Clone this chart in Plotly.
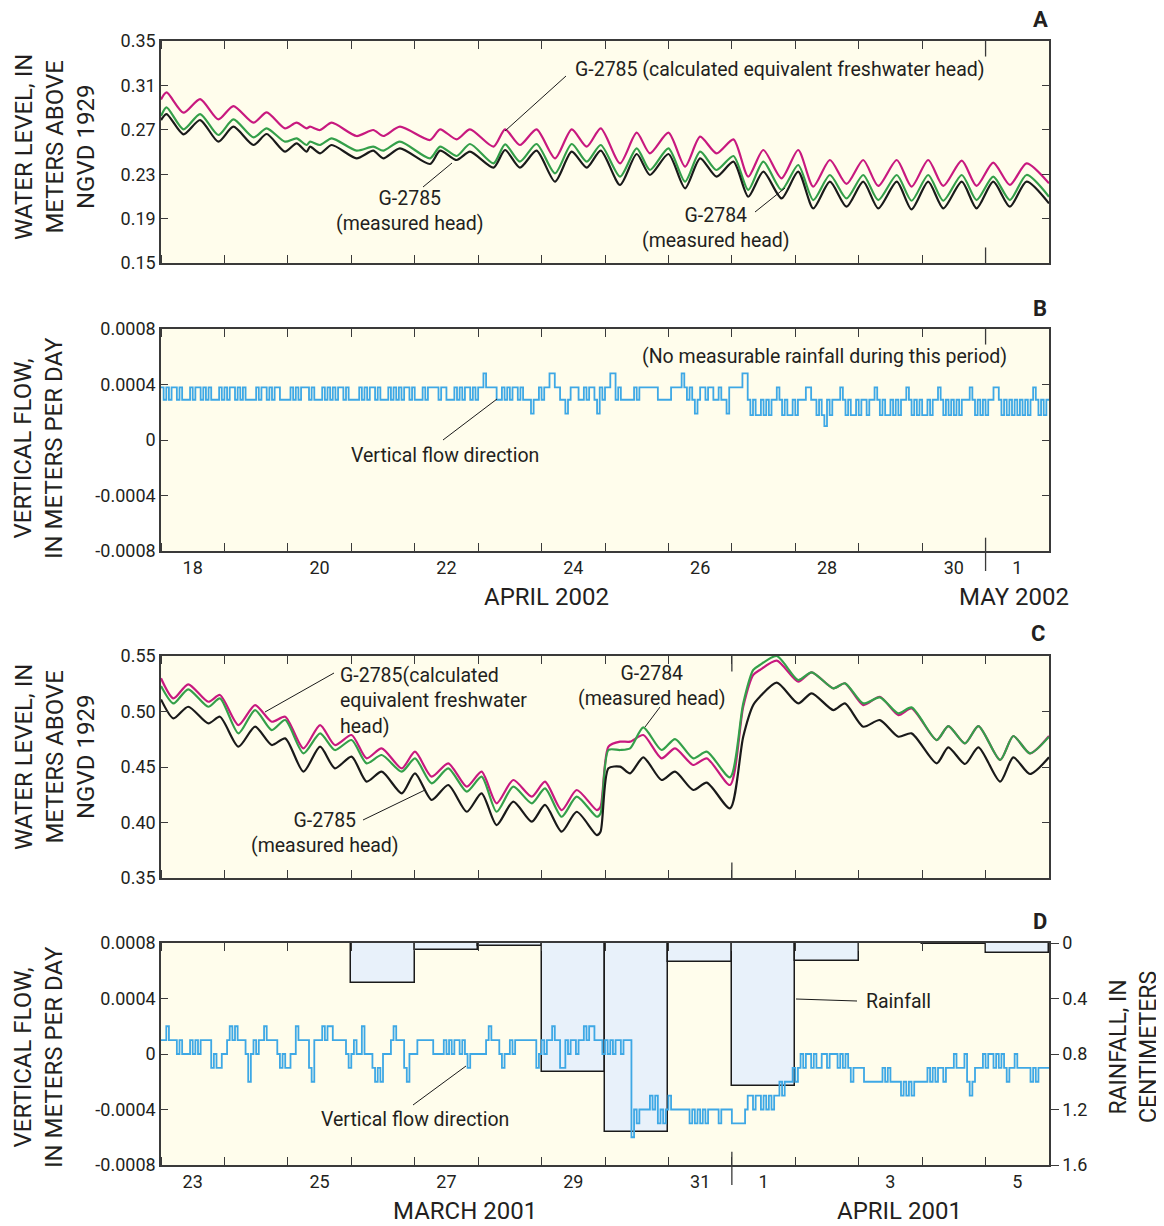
import plotly.graph_objects as go

# ---------------- DATA ----------------
# Panel A: 2002-04-18 00:00 .. 2002-05-02 00:00, hours from start
A_HOURS = [0, 2.1, 8.5, 14.8, 21.7, 27.4, 35.0, 40.0, 46.9, 51.3, 55.1, 56.4, 60.2, 64.6, 74.0, 80.3, 84.1,
           90.4, 101.8, 105.6, 111.9, 116.9, 125.8, 130.2, 135.8, 142.1, 149.1, 155.4, 161.1, 166.4, 173.7,
           180.0, 185.0, 192.0, 198.3, 204.0, 210.2, 216.6, 222.2, 227.9, 234.8, 241.1, 246.8, 253.1, 259.4,
           265.7, 271.4, 278.4, 284.0, 290.3, 296.0, 303.0, 308.6, 314.9, 321.2, 327.5, 336]
A_G2785_CALC = [0.2974, 0.3037, 0.2854, 0.2977, 0.2794, 0.2914, 0.2764, 0.2857, 0.2713, 0.2764,
                0.2713, 0.2728, 0.2698, 0.2764, 0.2644, 0.2698, 0.2644, 0.2728, 0.2608, 0.2704,
                0.2614, 0.2704, 0.2548, 0.2704, 0.2563, 0.2704, 0.2443, 0.2704, 0.2548, 0.2713,
                0.2398, 0.2674, 0.2488, 0.2674, 0.2368, 0.2638, 0.2488, 0.2614, 0.2278, 0.2518,
                0.2263, 0.2518, 0.2188, 0.2428, 0.2212, 0.2428, 0.2194, 0.2428, 0.2188, 0.2428,
                0.2194, 0.2422, 0.2194, 0.2404, 0.2203, 0.2398, 0.2218]
A_G2784_MEAS = [0.2824, 0.2902, 0.2704, 0.2842, 0.2653, 0.2794, 0.2632, 0.2713, 0.2593, 0.2623,
                0.2563, 0.2593, 0.2563, 0.2623, 0.2512, 0.2548, 0.2512, 0.2593, 0.2443, 0.2548,
                0.2464, 0.2572, 0.2398, 0.2569, 0.2413, 0.2572, 0.2308, 0.2572, 0.2413, 0.2563,
                0.2278, 0.2533, 0.2338, 0.2533, 0.2233, 0.2503, 0.2338, 0.2464, 0.2158, 0.2413,
                0.2158, 0.2383, 0.2067, 0.2293, 0.2082, 0.2293, 0.2067, 0.2293, 0.2061, 0.2293,
                0.2061, 0.2293, 0.2067, 0.2278, 0.2067, 0.2293, 0.2097]
A_G2785_MEAS = [0.2788, 0.2842, 0.2659, 0.2788, 0.2593, 0.2728, 0.2563, 0.2662, 0.2503, 0.2578,
                0.2503, 0.2548, 0.2488, 0.2563, 0.2443, 0.2512, 0.2443, 0.2533, 0.2392, 0.2512,
                0.2428, 0.2503, 0.2359, 0.2518, 0.2359, 0.2512, 0.2233, 0.2503, 0.2359, 0.2512,
                0.2203, 0.2482, 0.2293, 0.2482, 0.2173, 0.2443, 0.2278, 0.2413, 0.2097, 0.2323,
                0.2082, 0.2323, 0.1992, 0.2233, 0.2007, 0.2233, 0.1992, 0.2233, 0.1983, 0.2233,
                0.1992, 0.2233, 0.1992, 0.2233, 0.2007, 0.2233, 0.2037]

# Panel B: hourly vertical flow, units of 1e-4 m/d (2002-04-18 .. 2002-05-01)
FLOW_B_E4 = [
    3.8, 2.9, 3.8, 2.9, 3.8, 3.8, 2.9, 3.8, 2.9, 2.9, 2.9, 3.8, 2.9, 3.8, 3.8, 2.9, 3.8, 2.9, 3.8, 2.9, 2.9, 2.9, 3.8, 2.9,
    3.8, 2.9, 3.8, 3.8, 2.9, 3.8, 2.9, 3.8, 2.9, 2.9, 2.9, 2.9, 3.8, 2.9, 3.8, 3.8, 2.9, 3.8, 2.9, 3.8, 3.8, 2.9, 2.9, 2.9,
    2.9, 3.8, 2.9, 3.8, 2.9, 3.8, 3.8, 3.8, 2.9, 3.8, 2.9, 2.9, 2.9, 3.8, 2.9, 3.8, 2.9, 3.8, 2.9, 3.8, 3.8, 2.9, 3.8, 2.9,
    2.9, 2.9, 2.9, 3.8, 2.9, 3.8, 2.9, 3.8, 3.8, 2.9, 3.8, 2.9, 2.9, 2.9, 3.8, 2.9, 3.8, 2.9, 3.8, 2.9, 3.8, 3.8, 2.9, 3.8,
    2.9, 2.9, 2.9, 3.8, 2.9, 3.8, 3.8, 3.8, 3.8, 2.9, 3.8, 3.8, 2.9, 2.9, 2.9, 3.8, 2.9, 3.8, 2.9, 3.8, 3.8, 2.9, 3.8, 2.9,
    3.8, 3.8, 4.8, 3.8, 3.8, 3.8, 3.8, 2.9, 2.9, 3.8, 2.9, 3.8, 2.9, 3.8, 3.8, 2.9, 3.8, 2.9, 2.9, 2.9, 1.9, 2.9, 2.9, 3.8,
    2.9, 3.8, 3.8, 4.8, 4.8, 3.8, 3.8, 2.9, 2.9, 1.9, 2.9, 3.8, 3.8, 3.8, 2.9, 2.9, 3.8, 2.9, 3.8, 3.8, 2.9, 1.9, 3.8, 2.9,
    3.8, 3.8, 4.8, 4.8, 2.9, 3.8, 2.9, 2.9, 2.9, 2.9, 2.9, 3.8, 2.9, 3.8, 3.8, 3.8, 3.8, 3.8, 3.8, 3.8, 2.9, 2.9, 2.9, 2.9,
    2.9, 3.8, 3.8, 3.8, 3.8, 4.8, 3.8, 2.9, 3.8, 2.9, 1.9, 2.9, 3.8, 3.8, 2.9, 3.8, 3.8, 2.9, 2.9, 3.8, 2.9, 2.9, 1.9, 3.8,
    3.8, 3.8, 3.8, 3.8, 4.8, 4.8, 2.9, 1.8, 2.9, 1.8, 1.8, 2.9, 1.8, 2.9, 1.8, 2.9, 2.9, 3.8, 2.9, 1.8, 2.9, 1.8, 1.8, 2.9,
    1.8, 2.9, 2.9, 2.9, 3.8, 3.8, 2.9, 2.9, 1.8, 2.9, 1.8, 1.0, 2.9, 1.8, 2.9, 2.9, 2.9, 3.8, 2.9, 1.8, 2.9, 1.8, 1.8, 2.9,
    1.8, 2.9, 2.9, 1.8, 2.9, 2.9, 3.8, 2.9, 1.8, 2.9, 1.8, 1.8, 2.9, 1.8, 2.9, 1.8, 2.9, 2.9, 3.8, 2.9, 1.8, 2.9, 1.8, 2.9,
    1.8, 1.8, 2.9, 1.8, 2.9, 2.9, 3.8, 2.9, 1.8, 2.9, 1.8, 2.9, 1.8, 2.9, 1.8, 2.9, 2.9, 2.9, 3.8, 2.9, 1.8, 2.9, 1.8, 2.9,
    1.8, 2.9, 2.9, 3.8, 3.8, 2.9, 1.8, 2.9, 1.8, 2.9, 1.8, 2.9, 1.8, 2.9, 1.8, 2.9, 1.8, 2.9, 3.8, 2.9, 1.8, 2.9, 1.8, 2.9,
]

# Panel C: 2001-03-23 00:00 .. 2001-04-06 00:00, hours from start
C_HOURS = [0, 4.7, 10.3, 17.9, 22.3, 29.3, 35.6, 41.9, 47.0, 53.9, 60.2, 65.8, 72.1, 77.8, 83.5, 91.1, 96.1,
           102.4, 108.7, 115.7, 121.3, 127.0, 133.3, 140.3, 145.3, 151.6, 157.3, 164.9, 166.3, 169.3, 173.7,
           177.5, 182.5, 189.4, 194.5, 201.4, 206.5, 215.3, 220.3, 224.1, 226.6, 233.0, 241.1, 246.2, 254.4,
           258.8, 265.7, 272.0, 279.0, 284.0, 293.5, 297.9, 304.2, 309.3, 317.5, 322.5, 328.8, 336]
C_G2785_CALC = [0.5299, 0.5118, 0.5245, 0.5088, 0.5149, 0.4878, 0.5058, 0.4908, 0.4953, 0.4668,
                0.4878, 0.4698, 0.4788, 0.4578, 0.4668, 0.4488, 0.4638, 0.4413, 0.4533, 0.4323,
                0.4458, 0.4173, 0.4383, 0.4233, 0.4368, 0.4112, 0.4293, 0.4112, 0.4142, 0.4683,
                0.4728, 0.4728, 0.4788, 0.4578, 0.4668, 0.4518, 0.4578, 0.4338, 0.5043, 0.5329,
                0.5374, 0.5458, 0.5269, 0.5353, 0.5209, 0.5254, 0.5058, 0.5133, 0.4968, 0.5028,
                0.4743, 0.4869, 0.4713, 0.4869, 0.4563, 0.4779, 0.4623, 0.4779]
C_G2784_MEAS = [0.5230, 0.5073, 0.5200, 0.5043, 0.5118, 0.4803, 0.5013, 0.4833, 0.4923, 0.4623,
                0.4803, 0.4653, 0.4743, 0.4533, 0.4608, 0.4458, 0.4578, 0.4353, 0.4488, 0.4278,
                0.4413, 0.4097, 0.4323, 0.4173, 0.4308, 0.4052, 0.4233, 0.4052, 0.4082, 0.4653,
                0.4653, 0.4668, 0.4857, 0.4653, 0.4752, 0.4578, 0.4638, 0.4407, 0.5073, 0.5374,
                0.5419, 0.5500, 0.5284, 0.5353, 0.5209, 0.5254, 0.5073, 0.5127, 0.4983, 0.5037,
                0.4743, 0.4869, 0.4713, 0.4869, 0.4563, 0.4779, 0.4623, 0.4773]
C_G2785_MEAS = [0.5109, 0.4938, 0.5043, 0.4893, 0.4953, 0.4683, 0.4863, 0.4698, 0.4758, 0.4458,
                0.4683, 0.4488, 0.4593, 0.4368, 0.4458, 0.4263, 0.4443, 0.4203, 0.4338, 0.4097,
                0.4263, 0.3977, 0.4188, 0.4007, 0.4158, 0.3917, 0.4097, 0.3887, 0.3917, 0.4488,
                0.4503, 0.4443, 0.4587, 0.4383, 0.4458, 0.4293, 0.4359, 0.4127, 0.4773, 0.5058,
                0.5133, 0.5260, 0.5073, 0.5164, 0.5013, 0.5073, 0.4863, 0.4923, 0.4773, 0.4803,
                0.4533, 0.4677, 0.4527, 0.4677, 0.4368, 0.4587, 0.4437, 0.4587]

# Panel D: hourly vertical flow, units of 1e-4 m/d (2001-03-23 .. 2001-04-05)
FLOW_D_E4 = [
    1, 1, 2, 1, 1, 1, 0, 1, 0, 0, 0, 1, 0, 1, 0, 1, 1, 1, 1, -1, 0, -1, -1, 0,
    0, 1, 2, 1, 2, 1, 1, 1, 0, -2, 0, 1, 0, 1, 1, 2, 1, 1, 1, 1, 0, -1, 0, -1,
    -1, 0, 0, 2, 1, 1, 1, 1, -1, -2, 1, 1, 1, 2, 1, 2, 2, 1, 1, 1, 1, 1, 0, -1,
    0, 1, 0, 0, 2, 0, 0, 0, -1, -2, -1, -2, 0, 0, 0, 1, 2, 1, 1, 1, -1, -2, 0, 0,
    0, 1, 1, 1, 1, 1, 1, 0, 0, 0, 0, 1, 0, 1, 0, 1, 1, 0, 1, 0, -1, 0, 0, 0,
    0, 0, 0, 1, 2, 1, 1, 1, 0, -1, 0, 0, 1, 0, 1, 1, 1, 1, 1, 1, 1, 1, -1, 0,
    1, 0, 1, 1, 2, 1, 1, -1, -1, 1, 0, 1, 1, 0, 1, 1, 2, 1, 2, 2, 1, 1, 1, 0,
    1, 0, 1, 0, 1, 1, 0, 1, 1, 1, -6, -4, -5, -4, -4, -4, -4, -3, -4, -3, -5, -4, -5, -4,
    -3, -4, -4, -4, -4, -4, -4, -4, -5, -4, -5, -4, -5, -4, -5, -4, -4, -4, -4, -5, -4, -4, -4, -4,
    -5, -5, -5, -5, -5, -4, -3, -3, -4, -3, -3, -4, -3, -4, -3, -4, -3, -3, -2, -3, -2, -2, -2, -1,
    -2, -1, 0, -1, 0, 0, -1, 0, -1, -1, 0, 0, -1, 0, 0, 0, -1, 0, -1, 0, -1, -2, -1, -1,
    -1, -1, -2, -2, -2, -2, -2, -2, -2, -1, -2, -1, -2, -2, -2, -2, -3, -2, -3, -2, -3, -2, -2, -2,
    -2, -2, -1, -2, -1, -2, -1, -1, -2, -1, -1, -1, 0, -1, -1, -1, 0, -2, -3, -2, -1, -1, -1, 0,
    -1, 0, 0, -1, 0, -1, 0, -1, -2, -1, -1, 0, -1, -1, -1, -1, -1, -2, -1, -2, -1, -1, -1, -1,
]

# Daily rainfall, cm (March 23 .. April 5, 2001)
RAIN_CM = [0, 0, 0, 0.29, 0.05, 0.02, 0.93, 1.36, 0.14, 1.03, 0.13, 0, 0.01, 0.07]

# Tick labels (day-of-period index, label)
B_TICK_DAYS = [0, 2, 4, 6, 8, 10, 12, 13]
B_TICK_LABELS = ["18", "20", "22", "24", "26", "28", "30", "1"]
D_TICK_DAYS = [0, 2, 4, 6, 8, 9, 11, 13]
D_TICK_LABELS = ["23", "25", "27", "29", "31", "1", "3", "5"]
MONTH_BOUNDARY_B_DAY = 13   # May 1, 2002
MONTH_BOUNDARY_D_DAY = 9    # April 1, 2001

# ---------------- STYLE ----------------
FONT = "Roboto, Liberation Sans, Arial, sans-serif"
TXT = "#231f20"
FRAME = "#3a3a3a"
MAGENTA = "#c8197f"
GREEN = "#34a04a"
BLACK = "#1a1a1a"
BLUE = "#3ea8e5"
BG = "#fffdec"
RAINFILL = "#e8f1fa"

W, H = 1164, 1226
OFF = 8                      # page offset of the figure in the screenshot
PL, PR = 161 - OFF, 1049 - OFF


def dom(top, bot):
    return [1 - (bot - OFF) / H, 1 - (top - OFF) / H]


def px(x):
    return (x - OFF - PL) / (PR - PL)


def py(y):
    return 1 - (y - OFF) / H


fig = go.Figure()

# Panel A
for vals, col in [(A_G2785_CALC, MAGENTA), (A_G2784_MEAS, GREEN), (A_G2785_MEAS, BLACK)]:
    fig.add_trace(go.Scatter(x=A_HOURS, y=vals, mode="lines", xaxis="x", yaxis="y",
                             line=dict(color=col, width=2.2, shape="spline", smoothing=0.7),
                             showlegend=False, hoverinfo="skip"))
# Panel B
hrs_b = list(range(len(FLOW_B_E4) + 1))
fig.add_trace(go.Scatter(x=hrs_b, y=[v * 1e-4 for v in FLOW_B_E4 + FLOW_B_E4[-1:]], mode="lines",
                         xaxis="x2", yaxis="y2", line=dict(color=BLUE, width=1.8, shape="hv"),
                         showlegend=False, hoverinfo="skip"))
# Panel C
for vals, col in [(C_G2785_CALC, MAGENTA), (C_G2784_MEAS, GREEN), (C_G2785_MEAS, BLACK)]:
    fig.add_trace(go.Scatter(x=C_HOURS, y=vals, mode="lines", xaxis="x3", yaxis="y3",
                             line=dict(color=col, width=2.2, shape="spline", smoothing=0.7),
                             showlegend=False, hoverinfo="skip"))
# Panel D rainfall bars (base axis y4, right side), flow on overlaying y5
fig.add_trace(go.Bar(x=[24 * i + 12 for i in range(len(RAIN_CM))], y=RAIN_CM, width=24,
                     xaxis="x4", yaxis="y4", marker=dict(color=RAINFILL, line=dict(color=BLACK, width=1.5)),
                     showlegend=False, hoverinfo="skip"))
hrs_d = list(range(len(FLOW_D_E4) + 1))
fig.add_trace(go.Scatter(x=hrs_d, y=[v * 1e-4 for v in FLOW_D_E4 + FLOW_D_E4[-1:]], mode="lines",
                         xaxis="x4", yaxis="y5", line=dict(color=BLUE, width=1.8, shape="hv"),
                         showlegend=False, hoverinfo="skip"))

tickfont = dict(family=FONT, size=18, color=TXT)
minor = dict(tickmode="linear", tick0=0, dtick=24, ticks="inside", ticklen=8, tickwidth=1.2, tickcolor=FRAME)


def xaxis(anchor, tickdays=None, ticklabels=None):
    d = dict(anchor=anchor, domain=[0, 1], range=[0, 336], showline=True, linecolor=FRAME, linewidth=1.5,
             mirror="ticks", showgrid=False, zeroline=False, ticks="", minor=minor, tickfont=tickfont,
             fixedrange=True, automargin=False)
    if tickdays is None:
        d.update(showticklabels=False, tickmode="array", tickvals=[])
    else:
        d.update(tickmode="array", tickvals=[24 * t + 12 for t in tickdays], ticktext=ticklabels)
    return d


def yaxis(anchor, domain, rng, vals, texts, mirror="ticks", side="left"):
    return dict(anchor=anchor, domain=domain, range=rng, tickmode="array", tickvals=vals, ticktext=texts,
                ticks="inside", ticklen=7, tickwidth=1.2, tickcolor=FRAME, showline=True, linecolor=FRAME,
                linewidth=1.5, mirror=mirror, showgrid=False, zeroline=False, tickfont=tickfont, side=side,
                fixedrange=True, automargin=False)


wl_a = [0.15, 0.19, 0.23, 0.27, 0.31, 0.35]
wl_c = [0.35, 0.40, 0.45, 0.50, 0.55]
fl = [-0.0008, -0.0004, 0, 0.0004, 0.0008]
fl_txt = ["-0.0008", "-0.0004", "0", "0.0004", "0.0008"]
rain_ticks = [0, 0.4, 0.8, 1.2, 1.6]

fig.update_layout(
    xaxis=xaxis("y"),
    xaxis2=xaxis("y2", B_TICK_DAYS, B_TICK_LABELS),
    xaxis3=xaxis("y3"),
    xaxis4=xaxis("y4", D_TICK_DAYS, D_TICK_LABELS),
    yaxis=yaxis("x", dom(41, 263), [0.15, 0.35], wl_a, ["%.2f" % v for v in wl_a]),
    yaxis2=yaxis("x2", dom(329, 551), [-0.0008, 0.0008], fl, fl_txt),
    yaxis3=yaxis("x3", dom(656, 878), [0.35, 0.55], wl_c, ["%.2f" % v for v in wl_c]),
    yaxis4=dict(anchor="x4", domain=dom(943, 1165), range=[1.6, 0], side="right", tickmode="array",
                tickvals=rain_ticks, ticktext=["0", "0.4", "0.8", "1.2", "1.6"], ticks="outside", ticklen=8,
                tickwidth=1.2, tickcolor=FRAME, showline=True, linecolor=FRAME, linewidth=1.5,
                showgrid=False, zeroline=False, tickfont=tickfont, fixedrange=True, automargin=False),
    yaxis5=dict(anchor="x4", overlaying="y4", side="left", range=[-0.0008, 0.0008], tickmode="array",
                tickvals=fl, ticktext=fl_txt, ticks="inside", ticklen=7, tickwidth=1.2, tickcolor=FRAME,
                showline=True, linecolor=FRAME, linewidth=1.5, showgrid=False, zeroline=False,
                tickfont=tickfont, fixedrange=True, automargin=False),
    width=W, height=H, margin=dict(l=PL, r=W - PR, t=0, b=0, pad=0, autoexpand=False),
    plot_bgcolor=BG, paper_bgcolor="white", bargap=0,
    font=dict(family=FONT, color=TXT),
)

# month-boundary long ticks
shapes = []
lk = dict(type="line", line=dict(color=FRAME, width=1.3))
xb = 24 * MONTH_BOUNDARY_B_DAY
xd = 24 * MONTH_BOUNDARY_D_DAY
shapes += [dict(lk, xref="x", yref="y domain", x0=xb, x1=xb, y0=1, y1=0.93),
           dict(lk, xref="x", yref="y domain", x0=xb, x1=xb, y0=0, y1=0.07),
           dict(lk, xref="x2", yref="y2 domain", x0=xb, x1=xb, y0=1, y1=0.93),
           dict(lk, xref="x2", yref="y2 domain", x0=xb, x1=xb, y0=-0.09, y1=0.06),
           dict(lk, xref="x3", yref="y3 domain", x0=xd, x1=xd, y0=1, y1=0.93),
           dict(lk, xref="x3", yref="y3 domain", x0=xd, x1=xd, y0=0, y1=0.07),
           dict(lk, xref="x4", yref="y4 domain", x0=xd, x1=xd, y0=-0.09, y1=0.06)]

# leader lines (pixel positions in the picture)
leaders = [((566, 76), (505, 131)), ((423, 187), (452, 163)), ((755, 212), (785, 188)),
           ((443, 440), (497, 399)),
           ((334, 673), (265, 712)), ((660, 707), (645, 727)), ((363, 820), (425, 790)),
           ((857, 1001), (796, 999)), ((413, 1105), (466, 1066))]
for (x0, y0), (x1, y1) in leaders:
    shapes.append(dict(type="line", xref="paper", yref="paper", x0=px(x0), y0=py(y0), x1=px(x1), y1=py(y1),
                       line=dict(color=BLACK, width=1)))
fig.update_layout(shapes=shapes)

ann = []


def text(x, y, s, size=19.5, xanchor="center", angle=0, bold=False, align="center"):
    if bold:
        s = "<b>%s</b>" % s
    ann.append(dict(x=px(x), y=py(y), xref="paper", yref="paper", text=s, showarrow=False,
                    font=dict(family=FONT, size=size, color=TXT), xanchor=xanchor, yanchor="middle",
                    textangle=angle, align=align))


text(573, 70, "G-2785 (calculated equivalent freshwater head)", xanchor="left")
text(410, 211, "G-2785<br>(measured head)")
text(716, 228, "G-2784<br>(measured head)")
text(824, 357, "(No measurable rainfall during this period)")
text(445, 455, "Vertical flow direction")
text(338, 701, "G-2785(calculated<br>equivalent freshwater<br>head)", xanchor="left", align="left")
text(652, 686, "G-2784<br>(measured head)")
text(325, 833, "G-2785<br>(measured head)")
text(864, 1001, "Rainfall", xanchor="left")
text(415, 1119, "Vertical flow direction")

text(55, 147, "WATER LEVEL, IN<br>METERS ABOVE<br>NGVD 1929", size=24, angle=-90)
text(38, 448, "VERTICAL FLOW,<br>IN METERS PER DAY", size=24, angle=-90)
text(55, 757, "WATER LEVEL, IN<br>METERS ABOVE<br>NGVD 1929", size=24, angle=-90)
text(38, 1057, "VERTICAL FLOW,<br>IN METERS PER DAY", size=24, angle=-90)
text(1133, 1047, "RAINFALL, IN<br>CENTIMETERS", size=23, angle=-90)

text(546, 597, "APRIL 2002", size=24)
text(1014, 597, "MAY 2002", size=24)
text(465, 1211, "MARCH 2001", size=24)
text(899, 1211, "APRIL 2001", size=24)

text(1040, 20, "A", size=22, bold=True)
text(1040, 308, "B", size=22, bold=True)
text(1038, 634, "C", size=22, bold=True)
text(1040, 921, "D", size=22, bold=True)

fig.update_layout(annotations=ann)
fig.write_html("out.html")
